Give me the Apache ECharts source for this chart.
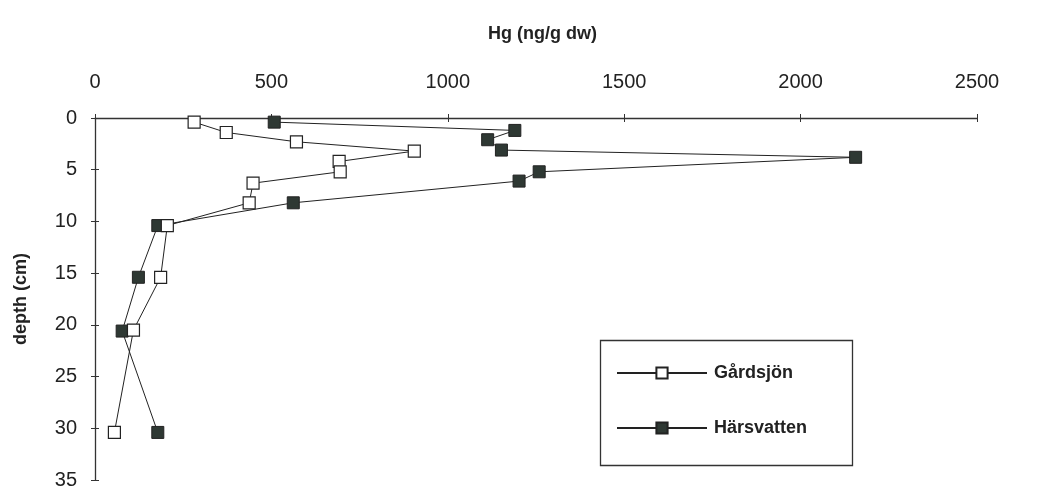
<!DOCTYPE html>
<html>
<head>
<meta charset="utf-8">
<script src="https://cdn.jsdelivr.net/npm/echarts@6/dist/echarts.min.js"></script>
<style>
html,body{margin:0;padding:0;background:#fff;}
#c{width:1037px;height:488px;}
</style>
</head>
<body>
<div id="c"></div>
<script>
// Data (Hg in ng/g dw vs depth in cm)
const seriesNames = ['Gårdsjön', 'Härsvatten'];
const gardsjonDepth = [0.4, 1.4, 2.3, 3.2, 4.2, 5.2, 6.3, 8.2, 10.4, 15.4, 20.5, 30.4];
const gardsjonHg    = [281, 372, 571, 905, 692, 695, 448, 437, 205, 186, 109, 55];
const harsvattenDepth = [0.4, 1.2, 2.1, 3.1, 3.8, 5.2, 6.1, 8.2, 10.4, 15.4, 20.6, 30.4];
const harsvattenHg    = [508, 1190, 1113, 1152, 2156, 1259, 1202, 562, 178, 123, 77, 178];
const xTicks = [0, 500, 1000, 1500, 2000, 2500];
const yTicks = [0, 5, 10, 15, 20, 25, 30, 35];
const xTitle = 'Hg (ng/g dw)';
const yTitle = 'depth (cm)';

const FONT = '"Liberation Sans", Arial, sans-serif';
const INK = '#222';

function pairs(xs, ys) { return xs.map((x, i) => [x, ys[i]]); }
function plain(v) { return String(v); }

const chart = echarts.init(document.getElementById('c'), null, {renderer: 'canvas'});
const xMin = xTicks[0], xMax = xTicks[xTicks.length - 1];
const yMin = yTicks[0], yMax = yTicks[yTicks.length - 1];
const xInt = xTicks[1] - xTicks[0], yInt = yTicks[1] - yTicks[0];

chart.setOption({
  backgroundColor: '#fff',
  animation: false,
  title: {
    text: xTitle,
    left: 483, top: 20,
    textStyle: {fontFamily: FONT, fontSize: 18, fontWeight: 'bold', color: INK}
  },
  grid: {left: 95, top: 118, right: 60, bottom: 8, containLabel: false, outerBoundsMode: 'none'},
  xAxis: [
    {
      type: 'value', position: 'top', min: xMin, max: xMax, interval: xInt,
      axisLine: {show: true, lineStyle: {color: '#333', width: 1.3}},
      axisTick: {show: true, length: 4, lineStyle: {color: '#333', width: 1}},
      axisLabel: {margin: 26, fontFamily: FONT, fontSize: 20, color: INK, formatter: plain},
      splitLine: {show: false}
    },
    {
      type: 'value', position: 'top', min: xMin, max: xMax, interval: xInt,
      axisLine: {show: false},
      axisTick: {show: true, inside: true, length: 4, lineStyle: {color: '#333', width: 1}},
      axisLabel: {show: false},
      splitLine: {show: false}
    }
  ],
  yAxis: [
    {
      type: 'value', inverse: true, min: yMin, max: yMax, interval: yInt,
      name: yTitle, nameLocation: 'middle', nameGap: 65, nameRotate: 90,
      nameTextStyle: {fontFamily: FONT, fontSize: 18, fontWeight: 'bold', color: INK},
      axisLine: {show: true, lineStyle: {color: '#333', width: 1.3}},
      axisTick: {show: true, length: 4, lineStyle: {color: '#333', width: 1}},
      axisLabel: {margin: 18, fontFamily: FONT, fontSize: 20, color: INK, formatter: plain},
      splitLine: {show: false}
    },
    {
      type: 'value', inverse: true, min: yMin, max: yMax, interval: yInt, position: 'left',
      axisLine: {show: false},
      axisTick: {show: true, inside: true, length: 4, lineStyle: {color: '#333', width: 1}},
      axisLabel: {show: false},
      splitLine: {show: false}
    }
  ],
  legend: {
    orient: 'vertical',
    left: 616, top: 364,
    padding: 0,
    itemWidth: 90, itemHeight: 14, itemGap: 37,
    textStyle: {fontFamily: FONT, fontSize: 18, fontWeight: 'bold', color: INK, lineHeight: 18, padding: [0, 0, 0, 2]},
    data: seriesNames
  },
  graphic: [
    {
      type: 'rect', left: 598, top: 338,
      shape: {width: 252, height: 125},
      style: {fill: 'none', stroke: '#333', lineWidth: 1.3},
      silent: true, z: -1
    }
  ],
  series: [
    {
      name: seriesNames[0], type: 'line',
      data: pairs(gardsjonHg, gardsjonDepth),
      symbol: 'rect', symbolSize: 12,
      lineStyle: {color: INK, width: 1},
      itemStyle: {color: '#fff', borderColor: INK, borderWidth: 1.2},
      z: 3
    },
    {
      name: seriesNames[1], type: 'line',
      data: pairs(harsvattenHg, harsvattenDepth),
      symbol: 'rect', symbolSize: 12,
      lineStyle: {color: INK, width: 1},
      itemStyle: {color: '#2e3833', borderColor: INK, borderWidth: 1},
      z: 2
    }
  ]
});
</script>
</body>
</html>
